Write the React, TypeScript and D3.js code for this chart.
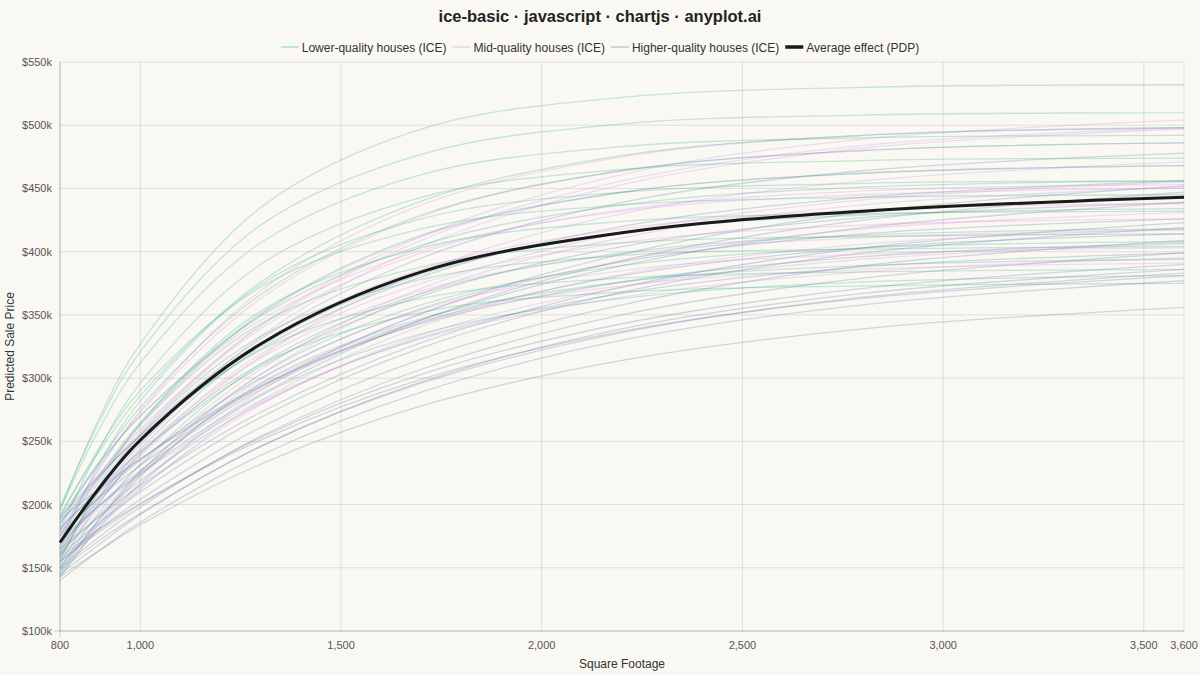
import * as d3 from "d3";
import { FC, useEffect } from "react";

// square footage grid the curves were read at
const sqftGrid = [800, 900, 1000, 1300, 1700, 2200, 2800, 3600];

// predicted sale price in $k, one row per house
const lowerIce = [
  [195, 270, 327, 435, 497, 522, 530, 532],
  [198, 267, 321, 421, 477, 501, 508, 510],
  [192, 243, 286, 376, 440, 476, 492, 498],
  [196, 261, 312, 407, 461, 483, 490, 492],
  [185, 235, 277, 366, 429, 464, 480, 486],
  [180, 245, 296, 390, 443, 465, 472, 474],
  [175, 224, 265, 351, 413, 447, 462, 468],
  [188, 233, 270, 349, 405, 437, 451, 456],
  [170, 233, 282, 374, 426, 447, 454, 456],
  [160, 206, 244, 325, 382, 415, 429, 434],
  [155, 216, 264, 353, 403, 424, 430, 432],
  [150, 195, 232, 311, 367, 399, 413, 418],
  [165, 220, 263, 343, 388, 407, 412, 414],
  [145, 189, 226, 303, 358, 389, 403, 408],
  [158, 212, 255, 333, 378, 397, 402, 404],
  [148, 189, 223, 296, 347, 376, 389, 394],
  [162, 212, 250, 322, 363, 379, 384, 386],
  [143, 183, 216, 286, 335, 363, 376, 381],
  [153, 202, 240, 311, 352, 368, 373, 375],
  [190, 246, 290, 372, 418, 437, 443, 445],
];

const midIce = [
  [185, 225, 260, 341, 409, 456, 484, 498],
  [180, 222, 258, 342, 412, 461, 489, 504],
  [175, 229, 274, 369, 437, 475, 492, 498],
  [170, 212, 248, 333, 404, 453, 482, 497],
  [178, 230, 273, 363, 428, 464, 480, 486],
  [165, 204, 238, 317, 384, 430, 456, 471],
  [172, 222, 263, 350, 412, 447, 462, 468],
  [160, 198, 231, 307, 371, 415, 441, 455],
  [168, 216, 256, 339, 399, 433, 448, 453],
  [155, 193, 226, 303, 367, 411, 437, 451],
  [162, 208, 247, 328, 386, 418, 433, 438],
  [150, 186, 217, 290, 351, 393, 418, 431],
  [158, 203, 240, 319, 375, 407, 421, 426],
  [147, 182, 212, 282, 341, 382, 406, 418],
  [165, 207, 242, 316, 369, 398, 411, 417],
  [152, 185, 213, 279, 334, 372, 394, 406],
  [142, 186, 222, 299, 354, 385, 398, 403],
  [170, 199, 224, 282, 331, 364, 384, 395],
  [150, 190, 224, 295, 345, 373, 386, 391],
  [190, 234, 270, 346, 401, 432, 445, 450],
];

const higherIce = [
  [185, 223, 255, 331, 395, 439, 464, 478],
  [178, 206, 231, 293, 351, 398, 431, 452],
  [190, 224, 254, 323, 380, 420, 443, 456],
  [172, 200, 225, 287, 346, 393, 425, 447],
  [180, 213, 242, 309, 365, 404, 427, 439],
  [165, 191, 215, 273, 328, 372, 403, 423],
  [175, 207, 235, 300, 355, 392, 414, 426],
  [160, 186, 210, 269, 324, 368, 399, 419],
  [168, 200, 227, 291, 344, 381, 403, 414],
  [155, 181, 204, 261, 315, 358, 389, 409],
  [182, 211, 236, 294, 343, 376, 396, 407],
  [150, 175, 198, 254, 307, 350, 379, 399],
  [162, 192, 219, 280, 332, 367, 388, 399],
  [145, 169, 192, 246, 297, 339, 367, 386],
  [158, 181, 201, 251, 299, 337, 363, 381],
  [148, 172, 193, 246, 296, 336, 364, 383],
  [143, 164, 184, 232, 278, 314, 339, 356],
  [155, 179, 200, 253, 303, 343, 371, 390],
  [140, 164, 186, 239, 289, 330, 358, 377],
  [188, 213, 236, 293, 346, 389, 419, 439],
];

// partial dependence (average of the ICE curves)
const pdpValues = [170, 214, 251, 327, 384, 415, 432, 443];

const yTicks = [100, 150, 200, 250, 300, 350, 400, 450, 500, 550];
const xTicks = [800, 1000, 1500, 2000, 2500, 3000, 3500, 3600];

const seriesLabels = [
  "Lower-quality houses (ICE)",
  "Mid-quality houses (ICE)",
  "Higher-quality houses (ICE)",
  "Average effect (PDP)",
];
const seriesColors = [
  "rgba(0, 158, 115, 0.22)",
  "rgba(200, 120, 230, 0.22)",
  "rgba(60, 90, 145, 0.22)",
  "#1a1a1a",
];

const W = 1200;
const H = 675;
const FONT = "'Liberation Sans', Arial, Helvetica, sans-serif";

const IceChart: FC = () => {
  useEffect(() => {
    document.body.style.margin = "0";

    const margin = { top: 62, right: 16, bottom: 44, left: 60 };
    const width = W - margin.left - margin.right;
    const height = H - margin.top - margin.bottom;

    const xScale = d3.scaleLinear().domain([800, 3600]).range([0, width]);
    const yScale = d3.scaleLinear().domain([100, 550]).range([height, 0]);

    const svg = d3.select("#icechart");
    svg.selectAll("*").remove();

    svg.append("rect").attr("width", W).attr("height", H).attr("fill", "#faf8f2");

    // title
    svg
      .append("text")
      .attr("x", W / 2)
      .attr("y", 22)
      .attr("text-anchor", "middle")
      .attr("font-family", FONT)
      .attr("font-size", 16.5)
      .attr("font-weight", "bold")
      .attr("fill", "#222")
      .text("ice-basic · javascript · chartjs · anyplot.ai");

    // legend, measured so it sits centred
    const ctx = document.createElement("canvas").getContext("2d")!;
    ctx.font = `12px ${FONT}`;
    const boxW = 18;
    const itemWidths = seriesLabels.map((l) => boxW + 3 + ctx.measureText(l).width);
    const gap = 6;
    const total = d3.sum(itemWidths) + gap * (itemWidths.length - 1);
    let lx = W / 2 - total / 2;
    const gLegend = svg.append("g");
    seriesLabels.forEach((label, i) => {
      gLegend
        .append("line")
        .attr("x1", lx)
        .attr("x2", lx + boxW)
        .attr("y1", 47)
        .attr("y2", 47)
        .attr("stroke", i < 3 ? seriesColors[i].replace("0.22", "0.3") : seriesColors[i])
        .attr("stroke-width", i < 3 ? 1.5 : 3.5);
      gLegend
        .append("text")
        .attr("x", lx + boxW + 3)
        .attr("y", 51.5)
        .attr("font-family", FONT)
        .attr("font-size", 12)
        .attr("fill", "#333")
        .text(label);
      lx += itemWidths[i] + gap;
    });

    const g = svg
      .append("g")
      .attr("transform", `translate(${margin.left},${margin.top})`);

    // grid
    g.selectAll(".ygrid")
      .data(yTicks)
      .enter()
      .append("line")
      .attr("x1", 0)
      .attr("x2", width)
      .attr("y1", (d) => yScale(d))
      .attr("y2", (d) => yScale(d))
      .attr("stroke", "rgba(0,0,0,0.1)");
    g.selectAll(".xgrid")
      .data(xTicks)
      .enter()
      .append("line")
      .attr("x1", (d) => xScale(d))
      .attr("x2", (d) => xScale(d))
      .attr("y1", 0)
      .attr("y2", height)
      .attr("stroke", "rgba(0,0,0,0.1)");
    g.append("line")
      .attr("x1", 0)
      .attr("x2", 0)
      .attr("y1", 0)
      .attr("y2", height + 6)
      .attr("stroke", "rgba(0,0,0,0.18)");
    g.append("line")
      .attr("x1", -6)
      .attr("x2", width)
      .attr("y1", height)
      .attr("y2", height)
      .attr("stroke", "rgba(0,0,0,0.18)");

    // tick labels
    g.selectAll(".ylab")
      .data(yTicks)
      .enter()
      .append("text")
      .attr("x", -8)
      .attr("y", (d) => yScale(d) + 4)
      .attr("text-anchor", "end")
      .attr("font-family", FONT)
      .attr("font-size", 11)
      .attr("fill", "#555")
      .text((d) => `$${d}k`);
    const fmt = d3.format(",");
    g.selectAll(".xlab")
      .data(xTicks)
      .enter()
      .append("text")
      .attr("x", (d) => xScale(d))
      .attr("y", height + 18)
      .attr("text-anchor", "middle")
      .attr("font-family", FONT)
      .attr("font-size", 11)
      .attr("fill", "#555")
      .text((d) => fmt(d));

    // axis titles
    svg
      .append("text")
      .attr("transform", `translate(14,${margin.top + height / 2}) rotate(-90)`)
      .attr("text-anchor", "middle")
      .attr("font-family", FONT)
      .attr("font-size", 12)
      .attr("fill", "#333")
      .text("Predicted Sale Price");
    svg
      .append("text")
      .attr("x", margin.left + width / 2)
      .attr("y", H - 7)
      .attr("text-anchor", "middle")
      .attr("font-family", FONT)
      .attr("font-size", 12)
      .attr("fill", "#333")
      .text("Square Footage");

    // curves
    const lineGenerator = d3
      .line<number>()
      .x((_, i) => xScale(sqftGrid[i]))
      .y((d) => yScale(d))
      .curve(d3.curveCatmullRom.alpha(0.5));

    const appendGroup = (rows: number[][], color: string, w: number) => {
      g.append("g")
        .selectAll("path")
        .data(rows)
        .enter()
        .append("path")
        .attr("d", (d) => lineGenerator(d))
        .attr("fill", "none")
        .attr("stroke", color)
        .attr("stroke-width", w);
    };
    appendGroup(higherIce, seriesColors[2], 1.3);
    appendGroup(midIce, seriesColors[1], 1.3);
    appendGroup(lowerIce, seriesColors[0], 1.3);
    appendGroup([pdpValues], seriesColors[3], 3);
  }, []);

  return (
    <svg
      id="icechart"
      width={W}
      height={H}
      style={{ position: "absolute", left: 0, top: 0, display: "block" }}
    ></svg>
  );
};

export default function App() {
  return <IceChart />;
}
